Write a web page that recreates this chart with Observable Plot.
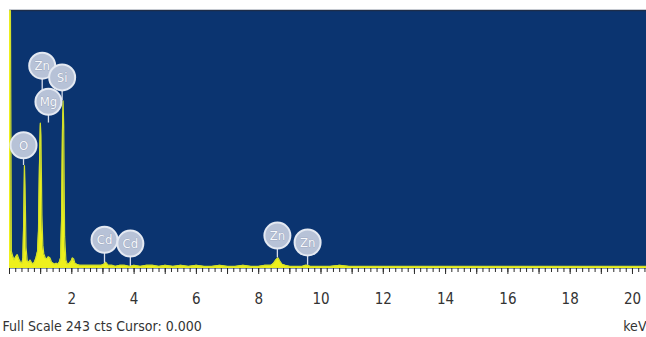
<!DOCTYPE html>
<html>
<head>
<meta charset="utf-8">
<script src="https://cdn.jsdelivr.net/npm/d3@7"></script>
<script src="https://cdn.jsdelivr.net/npm/@observablehq/plot@0.6"></script>
<style>
  html, body { margin: 0; padding: 0; background: #fff; }
  #chart svg { display: block; }
</style>
</head>
<body>
<div id="chart"></div>
<script>
// Spectrum: energy (keV) and counts
const energy = [
  0.00, 0.03, 0.06, 0.10, 0.15, 0.20, 0.25, 0.30, 0.35, 0.40,
  0.43, 0.46, 0.48, 0.50, 0.53, 0.57, 0.62, 0.66, 0.70, 0.75,
  0.80, 0.85, 0.90, 0.93, 0.96, 0.99, 1.01, 1.04, 1.07, 1.10,
  1.15, 1.20, 1.25, 1.30, 1.35, 1.40, 1.45, 1.50, 1.55, 1.60,
  1.64, 1.67, 1.70, 1.72, 1.74, 1.77, 1.81, 1.86, 1.92, 1.98,
  2.02, 2.06, 2.10, 2.16, 2.25, 2.35, 2.45, 2.55, 2.65, 2.75,
  2.85, 2.95, 3.03, 3.08, 3.12, 3.16, 3.22, 3.30, 3.40, 3.55,
  3.70, 3.85, 4.00, 4.20, 4.40, 4.60, 4.80, 5.00, 5.25, 5.50,
  5.75, 6.00, 6.25, 6.50, 6.75, 7.00, 7.25, 7.50, 7.75, 8.00,
  8.20, 8.40, 8.48, 8.55, 8.62, 8.68, 8.75, 8.85, 9.00, 9.20,
  9.40, 9.50, 9.57, 9.65, 9.80, 10.00, 10.30, 10.60, 10.90, 11.20,
  11.50, 11.80, 12.10, 12.40, 12.70, 13.00, 13.30, 13.60, 13.90, 14.20,
  14.50, 14.80, 15.10, 15.40, 15.70, 16.00, 16.30, 16.60, 16.90, 17.20,
  17.50, 17.80, 18.10, 18.40, 18.70, 19.00, 19.30, 19.60, 19.90, 20.20,
  20.45
];
const counts = [
  243, 243, 16, 12, 8, 11, 13, 9, 6, 5,
  10, 50, 97, 78, 20, 7, 6, 8, 6, 4,
  6, 10, 16, 35, 95, 137, 125, 50, 22, 14,
  10, 9, 11, 10, 6, 5, 4, 5, 4, 6,
  10, 45, 130, 158, 135, 30, 8, 4, 5, 7,
  10, 9, 5, 4, 3, 3, 3, 3, 3, 3,
  3, 3, 4, 6, 5, 3, 3, 3, 2, 3,
  3, 2, 3, 2, 3, 3, 2, 3, 2, 3,
  2, 3, 2, 2, 3, 2, 2, 3, 2, 2,
  3, 3, 5, 8, 10, 7, 4, 3, 2, 2,
  2, 3, 3, 2, 2, 2, 2, 3, 2, 2,
  2, 2, 2, 2, 2, 2, 2, 2, 2, 2,
  2, 2, 2, 2, 2, 2, 2, 2, 2, 2,
  2, 2, 2, 2, 2, 2, 2, 2, 2, 2,
  2
];

// Peak labels (element, bubble position, peak top)
const labelNames  = ["Zn", "Si", "Mg", "O", "Cd", "Cd", "Zn", "Zn"];
const labelEnergy = [1.05, 1.69, 1.25, 0.45, 3.05, 3.88, 8.60, 9.57];
const labelY      = [191, 180, 157, 116, 27, 23.5, 31, 24.5];
const stemBottom  = [150, 158, 137, 97, 5, 2, 10, 3];

const xTicks = [2, 4, 6, 8, 10, 12, 14, 16, 18, 20];
const fullScale = 243;
const footerText = "Full Scale 243 cts Cursor: 0.000";
const unitText = "keV";

const spectrum = energy.map((e, i) => ({e, c: counts[i]}));
const labels = labelNames.map((n, i) => ({n, e: labelEnergy[i], y: labelY[i], b: stemBottom[i]}));

const font = "'Liberation Sans Narrow', 'Arial Narrow', 'DejaVu Sans Condensed', sans-serif";

const chart = Plot.plot({
  width: 646,
  height: 337,
  marginLeft: 9,
  marginRight: 0,
  marginTop: 10,
  marginBottom: 69,
  style: {fontFamily: font, background: "#ffffff"},
  x: {domain: [0, 20.45], label: null, axis: null},
  y: {domain: [0, fullScale], label: null, axis: null},
  marks: [
    Plot.frame({fill: "#0b3470"}),
    Plot.ruleY([fullScale], {stroke: "#1d2d4a", strokeWidth: 1.5}),
    Plot.areaY(spectrum, {x: "e", y: "c", fill: "#eef01c", curve: "linear"}),
    Plot.lineY(spectrum, {x: "e", y: "c", stroke: "#d2e02a", strokeWidth: 1.2}),
    Plot.ruleX(labels, {x: "e", y1: "b", y2: "y", stroke: "#d6dceb", strokeWidth: 1.3}),
    Plot.dot(labels, {x: "e", y: "y", r: 13, fill: "#b7c2d7", stroke: "#e4e9f2", strokeWidth: 2}),
    Plot.text(labels, {x: "e", y: "y", text: "n", fill: "#f7f8fb", stroke: "#8d99b0", strokeWidth: 0.6, fontSize: 13, fontFamily: font}),
    Plot.axisX({ticks: d3.range(0, 20.45, 0.2), tickSize: 4, tickFormat: () => "", stroke: "#2a2a2a", strokeWidth: 1, label: null}),
    Plot.axisX({ticks: d3.range(0, 20.45, 1), tickSize: 6, tickFormat: () => "", stroke: "#2a2a2a", strokeWidth: 1, label: null}),
    Plot.axisX({ticks: xTicks, tickSize: 0, tickPadding: 25, fontSize: 15, fill: "#333", fontFamily: font, label: null}),
    Plot.text([footerText], {frameAnchor: "bottom-left", dx: -7, dy: 62, textAnchor: "start", fontSize: 14, fill: "#333", fontFamily: font}),
    Plot.text([unitText], {frameAnchor: "bottom-right", dx: 0, dy: 62, textAnchor: "end", fontSize: 14, fill: "#333", fontFamily: font})
  ]
});
document.getElementById("chart").appendChild(chart);
</script>
</body>
</html>
